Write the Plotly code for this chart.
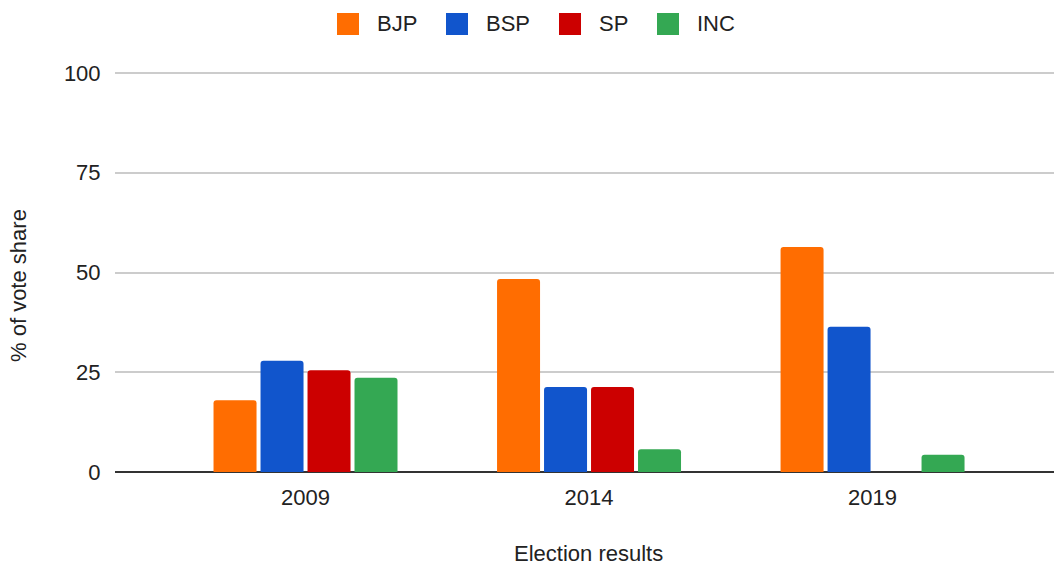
import plotly.graph_objects as go

years = ["2009", "2014", "2019"]
parties = ["BJP", "BSP", "SP", "INC"]
bjp = [18.0, 48.4, 56.4]
bsp = [27.9, 21.3, 36.4]
sp = [25.5, 21.3, None]
inc = [23.6, 5.7, 4.3]
colors = ["#ff6d01", "#1155cc", "#cc0000", "#34a853"]
y_ticks = [0, 25, 50, 75, 100]

series = [bjp, bsp, sp, inc]

W, H = 1054, 566
L, R, T, B = 115, 0, 69, 94
pw = W - L - R
ph = H - T - B

def px(x):
    return (x - L) / pw

def py(y):
    return (H - B - y) / ph

FONT = "Arial, Liberation Sans, sans-serif"
FS = 22

fig = go.Figure()
for name, vals, col in zip(parties, series, colors):
    fig.add_trace(go.Bar(x=years, y=vals, name=name,
                         marker=dict(color=col, line=dict(width=0), cornerradius=3),
                         showlegend=False))

fig.update_layout(
    width=W, height=H,
    margin=dict(l=L, r=R, t=T, b=B),
    plot_bgcolor="white", paper_bgcolor="white",
    barmode="group", bargap=0.337, bargroupgap=0.085,
    font=dict(family=FONT, size=FS, color="#222222"),
    xaxis=dict(range=[-0.672, 2.64], showgrid=False, showline=False, zeroline=False,
               ticks="outside", ticklen=6, tickcolor="rgba(0,0,0,0)",
               tickfont=dict(size=FS, color="#222222")),
    yaxis=dict(range=[0, 101], tickvals=y_ticks, showgrid=True, gridcolor="#cccccc",
               gridwidth=1.5, zeroline=True, zerolinecolor="#333333", zerolinewidth=1.5,
               showline=False, ticks="outside", ticklen=9, tickcolor="rgba(0,0,0,0)",
               tickfont=dict(size=FS, color="#222222")),
)

annotations = [
    dict(text="% of vote share", xref="paper", yref="paper", x=px(18), y=py(286),
         textangle=-90, showarrow=False, xanchor="center", yanchor="middle",
         font=dict(size=FS, color="#222222")),
    dict(text="Election results", xref="paper", yref="paper", x=px(588.5), y=py(553),
         showarrow=False, xanchor="center", yanchor="middle",
         font=dict(size=FS, color="#222222")),
]
shapes = []
sq_left = [337, 446, 559, 657]
txt_left = [375, 484, 597, 695]
for name, col, sx, tx in zip(parties, colors, sq_left, txt_left):
    shapes.append(dict(type="rect", xref="paper", yref="paper",
                       x0=px(sx), x1=px(sx + 22), y0=py(35), y1=py(13),
                       fillcolor=col, line=dict(width=0)))
    annotations.append(dict(text=name, xref="paper", yref="paper", x=px(tx), y=py(24),
                            showarrow=False, xanchor="left", yanchor="middle",
                            font=dict(size=FS, color="#222222")))
fig.update_layout(annotations=annotations, shapes=shapes)

fig.write_html("out.html", config={"displayModeBar": False},
               post_script="document.body.style.margin='0';")
